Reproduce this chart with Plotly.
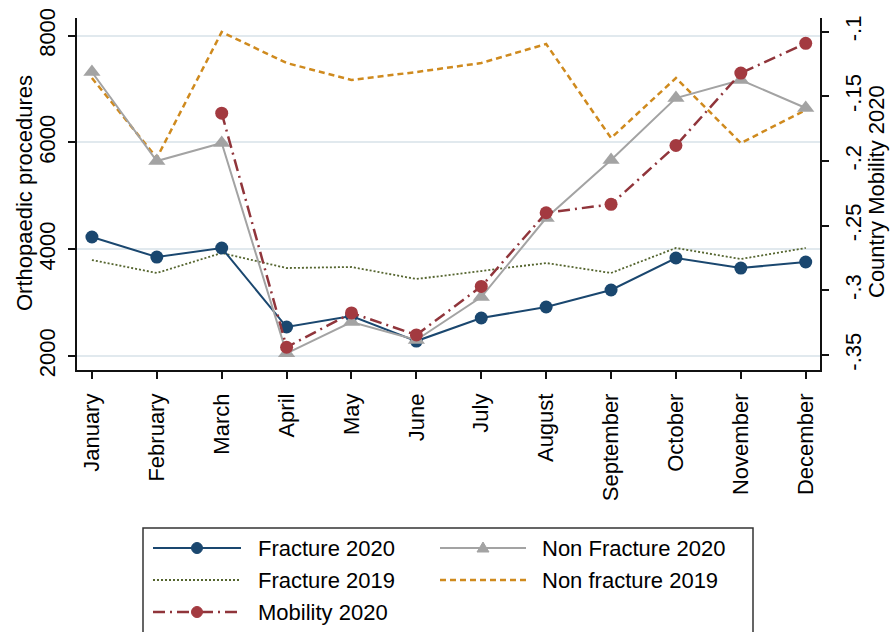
import plotly.graph_objects as go

# ---- data -------------------------------------------------------------
months = ["January", "February", "March", "April", "May", "June", "July",
          "August", "September", "October", "November", "December"]

fracture_2020 = [4229, 3854, 4023, 2543, 2750, 2280, 2712, 2918, 3236, 3836, 3648, 3761]
non_fracture_2020 = [7319, 5652, 5989, 2050, 2637, 2300, 3105, 4585, 5671, 6832, 7170, 6645]
fracture_2019 = [3798, 3555, 3929, 3648, 3667, 3442, 3592, 3742, 3555, 4023, 3817, 4023]
non_fracture_2019 = [7207, 5709, 8069, 7488, 7170, 7319, 7488, 7844, 6083, 7207, 5989, 6608]

mobility_months = months[2:]
mobility_2020 = [-0.163, -0.344, -0.3175, -0.3345, -0.297, -0.240, -0.2335, -0.188, -0.132, -0.109]

left_ticks = [2000, 4000, 6000, 8000]
right_ticks = [-0.35, -0.3, -0.25, -0.2, -0.15, -0.1]
right_tick_labels = ["-.35", "-.3", "-.25", "-.2", "-.15", "-.1"]

left_title = "Orthopaedic procedures"
right_title = "Country Mobility 2020"

# ---- styles -----------------------------------------------------------
NAVY = "#1a476f"
GRAY = "#a3a3a3"
OLIVE = "#55652f"
ORANGE = "#cf8a1e"
MAROON = "#90353b"
MAROON_MK = "#a33a40"
FONT = "Liberation Sans, Arial, sans-serif"

W, H = 891, 632
ML, MR, MT, MB = 77, 71, 18, 262
PW, PH = W - ML - MR, H - MT - MB

fig = go.Figure()

fig.add_trace(go.Scatter(
    x=months, y=fracture_2019, name="Fracture 2019", mode="lines",
    line=dict(color=OLIVE, width=1.8, dash="2px,2px")))
fig.add_trace(go.Scatter(
    x=months, y=non_fracture_2019, name="Non fracture 2019", mode="lines",
    line=dict(color=ORANGE, width=2.5, dash="6px,4px")))
fig.add_trace(go.Scatter(
    x=months, y=fracture_2020, name="Fracture 2020", mode="lines+markers",
    line=dict(color=NAVY, width=2),
    marker=dict(symbol="circle", size=13, color=NAVY)))
fig.add_trace(go.Scatter(
    x=months, y=non_fracture_2020, name="Non Fracture 2020", mode="lines+markers",
    line=dict(color=GRAY, width=2),
    marker=dict(symbol="triangle-up", size=15, color=GRAY)))
fig.add_trace(go.Scatter(
    x=mobility_months, y=mobility_2020, name="Mobility 2020", mode="lines+markers",
    yaxis="y2",
    line=dict(color=MAROON, width=2.5, dash="12px,5px,2px,5px"),
    marker=dict(symbol="circle", size=13, color=MAROON_MK)))

axis_common = dict(
    showline=True, linecolor="#111", linewidth=1.5,
    ticks="outside", ticklen=7, tickwidth=1.5, tickcolor="#111",
    zeroline=False, automargin=False,
    tickfont=dict(size=22, color="black", family=FONT),
)

fig.update_layout(
    width=W, height=H,
    margin=dict(l=ML, r=MR, t=MT, b=MB, pad=0, autoexpand=False),
    paper_bgcolor="white", plot_bgcolor="white",
    showlegend=False,
    font=dict(family=FONT, size=22, color="black"),
    xaxis=dict(
        type="category", categoryarray=months, range=[-0.23, 11.22],
        tickangle=-90, showgrid=False, ticklabelstandoff=6, **axis_common),
    yaxis=dict(
        range=[1738, 8331], tickvals=left_ticks, tickangle=-90,
        showgrid=True, gridcolor="#e1e9ee", gridwidth=2,
        ticklabelstandoff=4, **axis_common),
    yaxis2=dict(
        overlaying="y", side="right", anchor="x",
        range=[-0.3616, -0.0894], tickvals=right_ticks, ticktext=right_tick_labels,
        tickangle=-90, showgrid=False, ticklabelstandoff=6, **axis_common),
)


def px_x(p):
    return (p - ML) / PW


def px_y(p):
    return (H - MB - p) / PH


# ---- axis titles ------------------------------------------------------
annotations = [
    dict(text=left_title, xref="paper", yref="paper", x=px_x(24), y=px_y(193),
         textangle=-90, showarrow=False, xanchor="center", yanchor="middle",
         font=dict(size=22, family=FONT, color="black")),
    dict(text=right_title, xref="paper", yref="paper", x=px_x(877), y=px_y(192),
         textangle=-90, showarrow=False, xanchor="center", yanchor="middle",
         font=dict(size=22, family=FONT, color="black")),
]

# ---- legend box drawn beneath the plot --------------------------------
shapes = [dict(type="rect", xref="paper", yref="paper",
               x0=px_x(143), x1=px_x(753), y0=px_y(528), y1=px_y(645),
               line=dict(color="#333", width=1.5), fillcolor="white", layer="below")]

legend_items = [
    ("Fracture 2020", 153, 241, 548, NAVY, 2, "solid", "circle", NAVY),
    ("Non Fracture 2020", 440, 526, 548, GRAY, 2, "solid", "triangle", GRAY),
    ("Fracture 2019", 153, 241, 580, OLIVE, 1.8, "2px,2px", None, None),
    ("Non fracture 2019", 440, 526, 580, ORANGE, 2.5, "6px,4px", None, None),
    ("Mobility 2020", 153, 241, 612, MAROON, 2.5, "12px,5px,2px,5px", "circle", MAROON_MK),
]

for label, x0, x1, yc, col, lw, dash, mk, mkcol in legend_items:
    shapes.append(dict(type="line", xref="paper", yref="paper",
                       x0=px_x(x0), x1=px_x(x1), y0=px_y(yc), y1=px_y(yc),
                       line=dict(color=col, width=lw, dash=dash)))
    xm = (x0 + x1) / 2
    if mk == "circle":
        shapes.append(dict(type="circle", xref="paper", yref="paper",
                           x0=px_x(xm - 5.5), x1=px_x(xm + 5.5),
                           y0=px_y(yc + 5.5), y1=px_y(yc - 5.5),
                           fillcolor=mkcol, line=dict(color=mkcol, width=1)))
    elif mk == "triangle":
        path = "M {} {} L {} {} L {} {} Z".format(
            px_x(xm - 6), px_y(yc + 4), px_x(xm + 6), px_y(yc + 4), px_x(xm), px_y(yc - 6))
        shapes.append(dict(type="path", xref="paper", yref="paper", path=path,
                           fillcolor=mkcol, line=dict(color=mkcol, width=1)))
    text_x = 256 if x0 < 300 else 540
    annotations.append(dict(text=label, xref="paper", yref="paper",
                            x=px_x(text_x), y=px_y(yc), xanchor="left", yanchor="middle",
                            showarrow=False,
                            font=dict(size=22, family=FONT, color="black")))

fig.update_layout(shapes=shapes, annotations=annotations)

fig.write_html("out.html")
